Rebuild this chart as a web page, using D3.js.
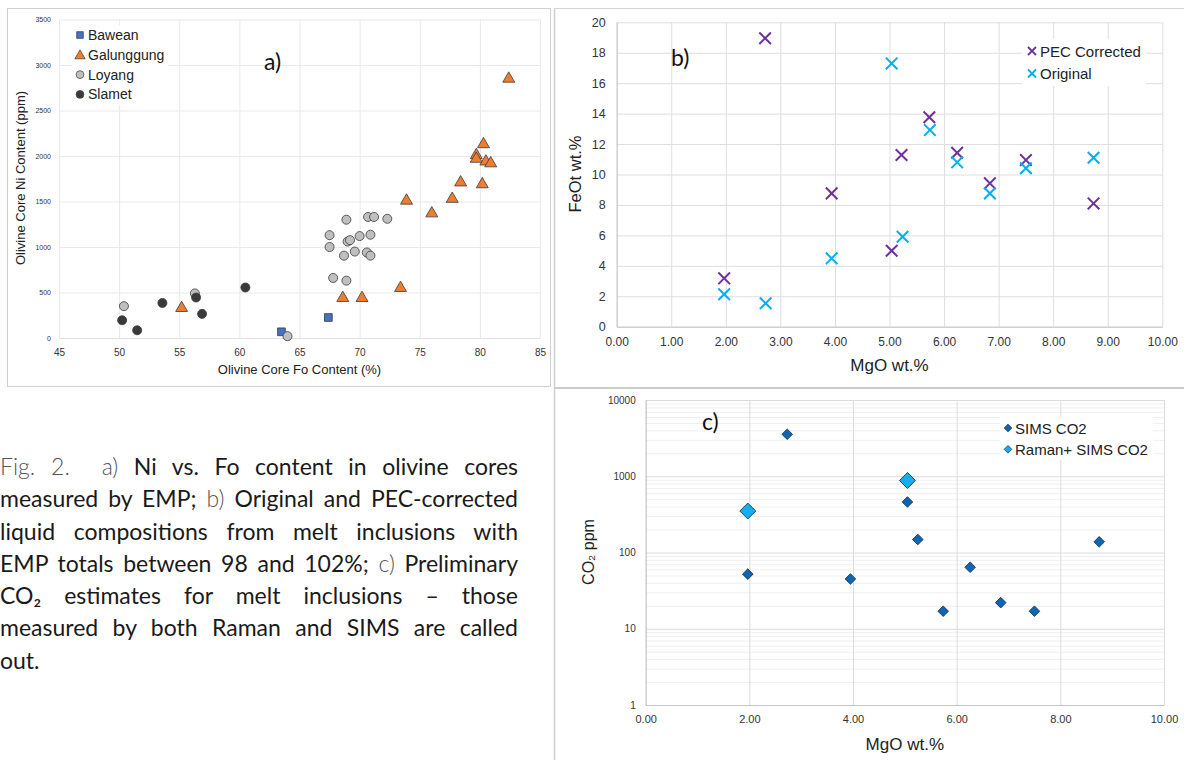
<!DOCTYPE html>
<html>
<head>
<meta charset="utf-8">
<script src="https://cdn.jsdelivr.net/npm/d3@7"></script>
<style>
  body { margin: 0; background: #fff; }
  #fig { position: relative; width: 1184px; height: 760px; overflow: hidden; }
  #fig svg { position: absolute; left: 0; top: 0; }
  #caption { position: absolute; left: 0; top: 450px; width: 518px;
             font-family: Lato, "Open Sans", sans-serif; font-size: 23px;
             line-height: 32.3px; color: #1a1a1a; }
  #caption .ln { text-align: justify; text-align-last: justify; white-space: nowrap; }
  #caption .last { text-align: left; text-align-last: left; }
  #caption .thin { font-weight: 300; color: #555; }
</style>
</head>
<body>
<div id="fig">
  <div id="caption">
    <div class="ln"><span class="thin">Fig. 2. &nbsp;a)</span> Ni vs. Fo content in olivine cores</div>
    <div class="ln">measured by EMP; <span class="thin">b)</span> Original and PEC-corrected</div>
    <div class="ln">liquid compositions from melt inclusions with</div>
    <div class="ln">EMP totals between 98 and 102%; <span class="thin">c)</span> Preliminary</div>
    <div class="ln">CO₂ estimates for melt inclusions – those</div>
    <div class="ln">measured by both Raman and SIMS are called</div>
    <div class="ln last">out.</div>
  </div>
</div>
<script>
// ---- data: panel a (Fo %, Ni ppm)
var bawean = [[63.5, 68], [67.4, 225]];
var galunggung = [[55.2, 340], [68.6, 450], [70.2, 450], [73.4, 560], [73.9, 1520],
                  [76.0, 1380], [77.7, 1540], [78.4, 1720], [80.2, 1700], [80.3, 2140],
                  [79.7, 2020], [79.7, 1980], [80.5, 1950], [80.9, 1930], [82.4, 2860]];
var loyang = [[50.4, 350], [56.3, 490], [64.0, 20], [68.9, 1300], [70.7, 1330],
              [71.2, 1330], [72.3, 1310], [67.5, 1130], [70.0, 1120], [70.9, 1135],
              [69.0, 1060], [69.2, 1075], [67.5, 1000], [68.7, 905], [69.6, 950],
              [70.6, 940], [70.9, 905], [67.8, 660], [68.9, 630]];
var slamet = [[50.25, 195], [51.5, 85], [53.6, 385], [56.4, 445], [56.9, 265], [60.5, 555]];
var seriesA = ["Bawean", "Galunggung", "Loyang", "Slamet"];
var ticksAx = [45, 50, 55, 60, 65, 70, 75, 80, 85];
var ticksAy = [0, 500, 1000, 1500, 2000, 2500, 3000, 3500];

// ---- data: panel b (MgO wt.%, FeOt wt.%)
var pecCorrected = [[2.72, 18.95], [3.94, 8.76], [1.97, 3.18], [5.73, 13.76], [5.22, 11.28],
                    [6.24, 11.43], [7.50, 10.95], [6.84, 9.42], [8.74, 8.1], [5.04, 4.99]];
var original = [[5.04, 17.3], [5.74, 12.92], [6.24, 10.8], [7.50, 10.41], [8.74, 11.1],
                [6.84, 8.76], [5.24, 5.91], [3.94, 4.49], [1.97, 2.13], [2.73, 1.54]];
var seriesB = ["PEC Corrected", "Original"];
var ticksBx = [0, 1, 2, 3, 4, 5, 6, 7, 8, 9, 10];
var ticksBy = [0, 2, 4, 6, 8, 10, 12, 14, 16, 18, 20];

// ---- data: panel c (MgO wt.%, CO2 ppm)
var simsCO2 = [[1.97, 52], [2.73, 3550], [3.95, 45], [5.05, 460], [5.25, 148],
               [5.74, 17], [6.26, 64], [6.85, 22], [7.50, 17], [8.75, 138]];
var ramanSims = [[1.97, 350], [5.05, 880]];
var seriesC = ["SIMS CO2", "Raman+ SIMS CO2"];
var ticksCx = [0, 2, 4, 6, 8, 10];
var ticksCy = [1, 10, 100, 1000, 10000];

var FONT = "'Liberation Sans', Arial, sans-serif";
var LABELFONT = "Lato, 'Open Sans', sans-serif";

// shrink caption font until the longest line fits the column, then justify
var caption = document.getElementById("caption");
var capLines = caption.querySelectorAll(".ln");
function widestLine() {
  var m = 0;
  capLines.forEach(function (l) {
    l.style.display = "inline-block";
    m = Math.max(m, l.getBoundingClientRect().width);
    l.style.display = "";
  });
  return m;
}
var capSize = 23;
while (capSize > 17 && widestLine() > 516) {
  capSize -= 0.25;
  caption.style.fontSize = capSize + "px";
}

var svg = d3.select("#fig").append("svg")
    .attr("width", 1184)
    .attr("height", 760)
    .style("font-family", FONT);

// frames between the panels
svg.append("rect")
    .attr("x", 7.5).attr("y", 8.5).attr("width", 543).attr("height", 378)
    .style("fill", "none").style("stroke", "#cfcfcf");
svg.append("line").attr("x1", 554.5).attr("x2", 554.5).attr("y1", 8).attr("y2", 760)
    .style("stroke", "#cfcfcf").style("stroke-width", 1.5);
svg.append("line").attr("x1", 554).attr("x2", 1184).attr("y1", 8.5).attr("y2", 8.5)
    .style("stroke", "#d6d6d6");
svg.append("line").attr("x1", 554).attr("x2", 1184).attr("y1", 388).attr("y2", 388)
    .style("stroke", "#cbcbcb").style("stroke-width", 2);

// helper: gridlines from an axis
function gridLines(g, axis, color) {
  g.call(axis.tickFormat(""))
  g.select(".domain").remove()
  g.selectAll(".tick line").attr("stroke", color)
}

// ====================== panel a ======================
var xA = d3.scaleLinear().domain([45, 85]).range([59, 540]);
var yA = d3.scaleLinear().domain([0, 3500]).range([338, 19.5]);

gridLines(svg.append("g").attr("transform", "translate(0,338)"),
  d3.axisBottom(xA).tickValues(ticksAx).tickSize(-(338 - 19.5)), "#e9e9e9");
gridLines(svg.append("g").attr("transform", "translate(59,0)"),
  d3.axisLeft(yA).tickValues(ticksAy).tickSize(-(540 - 59)), "#e9e9e9");

var axAx = svg.append("g").attr("transform", "translate(0,338)")
  .call(d3.axisBottom(xA).tickValues(ticksAx).tickSize(0).tickPadding(11));
axAx.select(".domain").attr("stroke", "#e0e0e0");
axAx.selectAll("text").style("font-size", "10px").style("font-family", FONT).attr("fill", "#333");

var axAy = svg.append("g").attr("transform", "translate(59,0)")
  .call(d3.axisLeft(yA).tickValues(ticksAy).tickSize(0).tickPadding(8).tickFormat(d3.format("d")));
axAy.select(".domain").remove();
axAy.selectAll("text").style("font-size", "7px").style("font-family", FONT).attr("fill", "#333");

svg.append("text")
    .attr("text-anchor", "middle")
    .attr("x", 299.5).attr("y", 374)
    .style("font-size", "13px").attr("fill", "#222")
    .text("Olivine Core Fo Content (%)");
svg.append("text")
    .attr("text-anchor", "middle")
    .attr("transform", "translate(25,178) rotate(-90)")
    .style("font-size", "13px").attr("fill", "#222")
    .text("Olivine Core Ni Content (ppm)");

var styleA = {
  "Bawean":     {data: bawean,     type: d3.symbolSquare,   size: 60, fill: "#4472c4"},
  "Galunggung": {data: galunggung, type: d3.symbolTriangle, size: 62, fill: "#ed7d31"},
  "Loyang":     {data: loyang,     type: d3.symbolCircle,   size: 64, fill: "#bfbfbf"},
  "Slamet":     {data: slamet,     type: d3.symbolCircle,   size: 64, fill: "#3a3a3a"}
};

seriesA.forEach(function (name) {
  var s = styleA[name];
  svg.append("g").selectAll("path")
    .data(s.data)
    .enter()
    .append("path")
      .attr("d", d3.symbol().type(s.type).size(s.size))
      .attr("transform", function (d) {
        var dy = s.type === d3.symbolTriangle ? 1 : 0;
        return "translate(" + xA(d[0]) + "," + (yA(d[1]) + dy) + ")";
      })
      .style("fill", s.fill)
      .style("stroke", "#3b3b3b")
      .style("stroke-width", 0.8);
});

// legend a
svg.append("rect").attr("x", 72).attr("y", 25).attr("width", 96).attr("height", 80).style("fill", "#fff");
seriesA.forEach(function (name, i) {
  var s = styleA[name];
  var cy = 35 + i * 19.8;
  svg.append("path")
    .attr("d", d3.symbol().type(s.type).size(s.size * 0.75))
    .attr("transform", "translate(80," + (cy + (s.type === d3.symbolTriangle ? 1 : 0)) + ")")
    .style("fill", s.fill).style("stroke", "#3b3b3b").style("stroke-width", 0.7);
  svg.append("text")
    .attr("x", 88).attr("y", cy + 5)
    .style("font-size", "14px").attr("fill", "#222")
    .text(name);
});
svg.append("text").attr("x", 264).attr("y", 70)
    .style("font-family", LABELFONT).style("font-size", "23px").attr("fill", "#111")
    .text("a)");

// ====================== panel b ======================
var xB = d3.scaleLinear().domain([0, 10]).range([616.7, 1162.3]);
var yB = d3.scaleLinear().domain([0, 20]).range([326.7, 22.3]);

gridLines(svg.append("g").attr("transform", "translate(0,326.7)"),
  d3.axisBottom(xB).tickValues(ticksBx).tickSize(-(326.7 - 22.3)), "#dedede");
gridLines(svg.append("g").attr("transform", "translate(616.7,0)"),
  d3.axisLeft(yB).tickValues(ticksBy).tickSize(-(1162.3 - 616.7)), "#dedede");

var axBx = svg.append("g").attr("transform", "translate(0,326.7)")
  .call(d3.axisBottom(xB).tickValues(ticksBx).tickSize(0).tickPadding(11).tickFormat(d3.format(".2f")));
axBx.select(".domain").attr("stroke", "#c4c4c4");
axBx.selectAll("text").style("font-size", "12px").style("font-family", FONT).attr("fill", "#333");

var axBy = svg.append("g").attr("transform", "translate(616.7,0)")
  .call(d3.axisLeft(yB).tickValues(ticksBy).tickSize(0).tickPadding(11));
axBy.select(".domain").attr("stroke", "#c4c4c4");
axBy.selectAll("text").style("font-size", "12.5px").style("font-family", FONT).attr("fill", "#333");

svg.append("text")
    .attr("text-anchor", "middle")
    .attr("x", 889.5).attr("y", 371)
    .style("font-size", "17px").attr("fill", "#222")
    .text("MgO wt.%");
svg.append("text")
    .attr("text-anchor", "middle")
    .attr("transform", "translate(581,174) rotate(-90)")
    .style("font-size", "16.5px").attr("fill", "#222")
    .text("FeOt wt.%");

function cross(r) {
  return "M" + (-r) + "," + (-r) + "L" + r + "," + r + "M" + (-r) + "," + r + "L" + r + "," + (-r);
}
var styleB = {
  "PEC Corrected": {data: pecCorrected, color: "#7030a0"},
  "Original":      {data: original,     color: "#00b0f0"}
};

seriesB.forEach(function (name) {
  var s = styleB[name];
  svg.append("g").selectAll("path")
    .data(s.data)
    .enter()
    .append("path")
      .attr("d", cross(5.8))
      .attr("transform", function (d) { return "translate(" + xB(d[0]) + "," + yB(d[1]) + ")"; })
      .style("fill", "none")
      .style("stroke", s.color)
      .style("stroke-width", 2);
});

// legend b
svg.append("rect").attr("x", 1022).attr("y", 39).attr("width", 124).attr("height", 47).style("fill", "#fff");
seriesB.forEach(function (name, i) {
  var s = styleB[name];
  var cy = 51 + i * 22.5;
  svg.append("path")
    .attr("d", cross(4))
    .attr("transform", "translate(1032," + cy + ")")
    .style("fill", "none").style("stroke", s.color).style("stroke-width", 1.8);
  svg.append("text")
    .attr("x", 1040).attr("y", cy + 5.5)
    .style("font-size", "15px").attr("fill", "#222")
    .text(name);
});
svg.append("text").attr("x", 671).attr("y", 66)
    .style("font-family", LABELFONT).style("font-size", "23px").attr("fill", "#111")
    .text("b)");

// ====================== panel c ======================
var xC = d3.scaleLinear().domain([0, 10]).range([645.7, 1164]);
var yC = d3.scaleLog().domain([1, 10000]).range([705, 400]);

// minor log gridlines
var minorC = [];
ticksCy.slice(0, -1).forEach(function (dec) {
  for (var k = 2; k <= 9; k++) minorC.push(dec * k);
});
gridLines(svg.append("g").attr("transform", "translate(645.7,0)"),
  d3.axisLeft(yC).tickValues(minorC).tickSize(-(1164 - 645.7)), "#efefef");
gridLines(svg.append("g").attr("transform", "translate(645.7,0)"),
  d3.axisLeft(yC).tickValues(ticksCy).tickSize(-(1164 - 645.7)), "#dcdcdc");
gridLines(svg.append("g").attr("transform", "translate(0,705)"),
  d3.axisBottom(xC).tickValues(ticksCx).tickSize(-(705 - 400)), "#dcdcdc");

var axCx = svg.append("g").attr("transform", "translate(0,705)")
  .call(d3.axisBottom(xC).tickValues(ticksCx).tickSize(0).tickPadding(10).tickFormat(d3.format(".2f")));
axCx.select(".domain").attr("stroke", "#c4c4c4");
axCx.selectAll("text").style("font-size", "11px").style("font-family", FONT).attr("fill", "#333");

var axCy = svg.append("g").attr("transform", "translate(645.7,0)")
  .call(d3.axisLeft(yC).tickValues(ticksCy).tickSize(0).tickPadding(10).tickFormat(d3.format("d")));
axCy.select(".domain").attr("stroke", "#c4c4c4");
axCy.selectAll("text").style("font-size", "10px").style("font-family", FONT).attr("fill", "#333");

svg.append("text")
    .attr("text-anchor", "middle")
    .attr("x", 904.8).attr("y", 750)
    .style("font-size", "17px").attr("fill", "#222")
    .text("MgO wt.%");
svg.append("text")
    .attr("text-anchor", "middle")
    .attr("transform", "translate(594,552) rotate(-90)")
    .style("font-size", "16px").attr("fill", "#222")
    .text("CO₂ ppm");

var styleC = {
  "SIMS CO2":        {data: simsCO2,   size: 56,  fill: "#0b66b7"},
  "Raman+ SIMS CO2": {data: ramanSims, size: 128, fill: "#12aef0"}
};

seriesC.forEach(function (name) {
  var s = styleC[name];
  svg.append("g").selectAll("path")
    .data(s.data)
    .enter()
    .append("path")
      .attr("d", d3.symbol().type(d3.symbolSquare).size(s.size))
      .attr("transform", function (d) { return "translate(" + xC(d[0]) + "," + yC(d[1]) + ") rotate(45)"; })
      .style("fill", s.fill)
      .style("stroke", "#1f2f3f")
      .style("stroke-width", 0.8);
});

// legend c
svg.append("rect").attr("x", 1000).attr("y", 417).attr("width", 153).attr("height", 43).style("fill", "#fff");
seriesC.forEach(function (name, i) {
  var s = styleC[name];
  var cy = 428 + i * 21.3;
  svg.append("path")
    .attr("d", d3.symbol().type(d3.symbolSquare).size(30))
    .attr("transform", "translate(1008," + cy + ") rotate(45)")
    .style("fill", s.fill).style("stroke", "#1f2f3f").style("stroke-width", 0.7);
  svg.append("text")
    .attr("x", 1015).attr("y", cy + 5.5)
    .style("font-size", "15px").attr("fill", "#222")
    .text(name);
});
svg.append("text").attr("x", 702).attr("y", 430)
    .style("font-family", LABELFONT).style("font-size", "23px").attr("fill", "#111")
    .text("c)");
</script>
</body>
</html>
